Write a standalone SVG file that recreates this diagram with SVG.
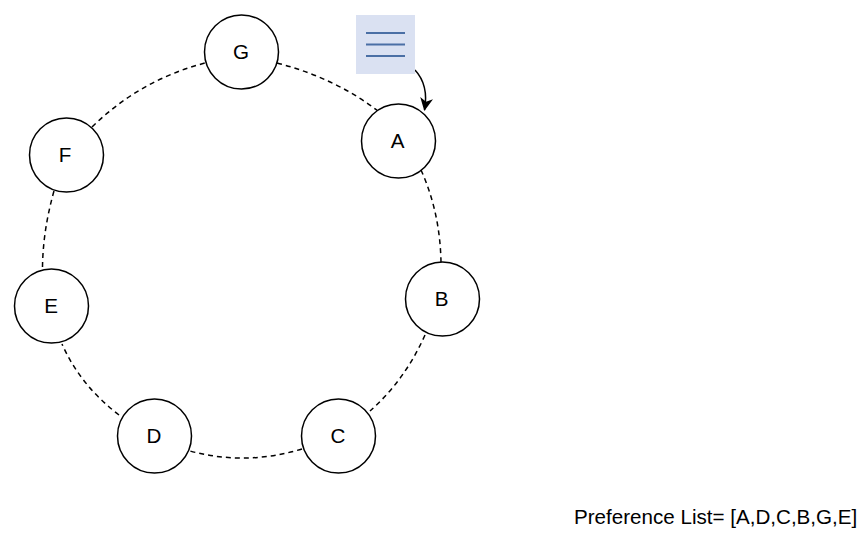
<svg xmlns="http://www.w3.org/2000/svg" width="867" height="545" viewBox="0 0 867 545">
<style>
.n{fill:#fff;stroke:#000;stroke-width:1.5}
.t{font-family:"Liberation Sans",Arial,sans-serif;font-size:20.600px;fill:#000;text-anchor:middle}
.c{fill:none;stroke:#000;stroke-width:1.5;stroke-dasharray:5 4}
.l{stroke:#4a6fa5;stroke-width:2;fill:none}
</style>
<defs><marker id="a" markerWidth="14" markerHeight="14" refX="12" refY="7" orient="auto" markerUnits="userSpaceOnUse"><path d="M0 0.500L13 7L0 13.500L3.500 7Z" fill="#000"/></marker></defs>
<rect width="867" height="545" fill="#fff"/>
<g id="connectors">
<path class="c" d="M277 63Q335 78 378 111"/>
<path class="c" d="M421 170Q440 212 441 262"/>
<path class="c" d="M425 335Q405 380 370 411"/>
<path class="c" d="M302 449Q245 466 190 451"/>
<path class="c" d="M119 415Q80 385 62 344"/>
<path class="c" d="M42.500 267Q43 230 54 191"/>
<path class="c" d="M92 127Q140 80 205 63"/>
<path fill="none" stroke="#000" stroke-width="1.500" d="M415 70Q429 85 424.500 110" marker-end="url(#a)"/>
</g>
<g id="doc"><rect x="356" y="15" width="59" height="59" fill="#dae1f2"/><path class="l" d="M366 33H405M366 44.500H405M366 56H405"/></g>
<g id="G"><circle class="n" cx="241.500" cy="52" r="37"/><text class="t" x="241" y="59">G</text></g>
<g id="A"><circle class="n" cx="398.500" cy="141" r="37"/><text class="t" x="397.500" y="148">A</text></g>
<g id="B"><circle class="n" cx="442.500" cy="299" r="37"/><text class="t" x="441.500" y="306">B</text></g>
<g id="C"><circle class="n" cx="338.500" cy="436" r="37"/><text class="t" x="338" y="443">C</text></g>
<g id="D"><circle class="n" cx="154.500" cy="436" r="37"/><text class="t" x="154" y="443">D</text></g>
<g id="E"><circle class="n" cx="51.500" cy="306" r="37"/><text class="t" x="51" y="313">E</text></g>
<g id="F"><circle class="n" cx="66.500" cy="155" r="37"/><text class="t" x="65" y="162">F</text></g>
<text x="574" y="524" font-family="Liberation Sans,Arial,sans-serif" font-size="20.600" fill="#000">Preference List= [A,D,C,B,G,E]</text>
</svg>
